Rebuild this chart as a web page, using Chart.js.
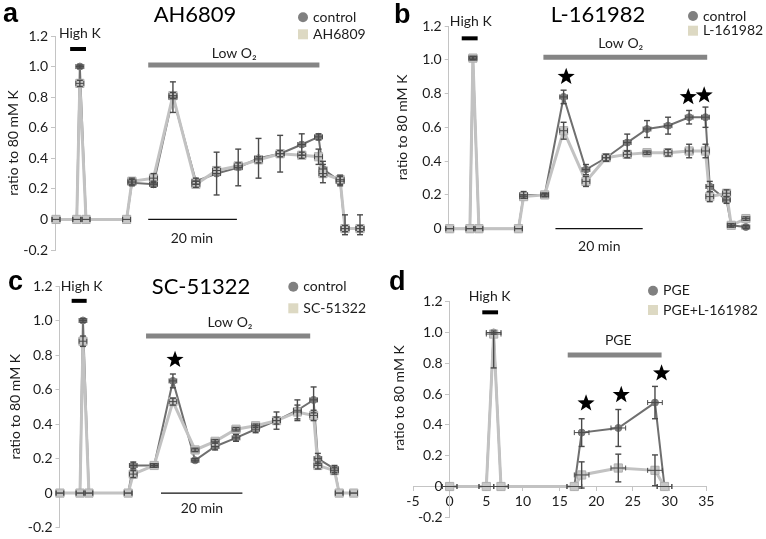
<!DOCTYPE html>
<html>
<head>
<meta charset="utf-8">
<title>Ratio to 80 mM K</title>
<script src="https://cdn.jsdelivr.net/npm/chart.js@4.4.1/dist/chart.umd.min.js"></script>
<style>
html,body{margin:0;padding:0;background:#fff}
#wrap{position:relative;width:766px;height:539px;overflow:hidden;background:#fff}
.panel{position:absolute}
</style>
</head>
<body>
<div id="wrap">
<div class="panel" style="left:0;top:0;width:383px;height:270px"><canvas id="pa"></canvas></div>
<div class="panel" style="left:383px;top:0;width:383px;height:270px"><canvas id="pb"></canvas></div>
<div class="panel" style="left:0;top:270px;width:383px;height:269px"><canvas id="pc"></canvas></div>
<div class="panel" style="left:383px;top:270px;width:383px;height:269px"><canvas id="pd"></canvas></div>
</div>
<script>
// ---------------- data ----------------
// time (min) of each sample in panels a–c
const times = [0, 4.7, 5.4, 6.8, 16.0, 17.2, 22.1, 26.5, 31.7, 36.4, 41.3, 45.9, 50.8, 55.7, 59.5, 60.5, 64.4, 65.5, 68.9];

// panel a
const controlA    = [0, 0, 1.00, 0, 0, 0.24, 0.23, 0.80, 0.25, 0.30, 0.34, 0.40, 0.43, 0.49, 0.54, 0.33, 0.25, -0.06, -0.06];
const ah6809      = [0, 0, 0.89, 0, 0, 0.25, 0.27, 0.81, 0.23, 0.32, 0.35, 0.39, 0.43, 0.42, 0.41, 0.30, 0.26, -0.06, -0.06];
const controlAErr = [0, 0, 0.01, 0, 0, 0.02, 0.02, 0.10, 0.02, 0.14, 0.12, 0.13, 0.12, 0.07, 0.02, 0.05, 0.03, [0.04, 0.09], [0.04, 0.09]];
const ah6809Err   = [0, 0, 0.02, 0, 0, 0.02, 0.03, 0.02, 0.02, 0.02, 0.02, 0.02, 0.02, 0.02, 0.05, 0.06, 0.03, 0.02, 0.02];

// panel b
const controlB    = [0, 0, 1.01, 0, 0, 0.20, 0.20, 0.78, 0.35, 0.42, 0.51, 0.59, 0.61, 0.66, 0.66, 0.25, 0.17, 0.02, 0.01];
const l161982     = [0, 0, 1.01, 0, 0, 0.19, 0.20, 0.58, 0.28, 0.42, 0.44, 0.45, 0.45, 0.46, 0.46, 0.19, 0.21, 0.02, 0.06];
const controlBErr = [0, 0, 0.01, 0, 0, 0.02, 0.01, 0.04, 0.03, 0.02, 0.05, 0.05, 0.05, 0.04, 0.06, 0.03, 0.02, 0.01, 0.01];
const l161982Err  = [0, 0, 0.01, 0, 0, 0.01, 0.01, 0.05, 0.03, 0.02, 0.02, 0.01, 0.02, 0.04, 0.04, 0.03, 0.02, 0.01, 0.01];

// panel c
const controlC    = [0, 0, 1.00, 0, 0, 0.16, 0.16, 0.65, 0.19, 0.27, 0.32, 0.37, 0.42, 0.48, 0.54, 0.20, 0.14, 0, 0];
const sc51322     = [0, 0, 0.88, 0, 0, 0.11, 0.16, 0.53, 0.25, 0.30, 0.37, 0.39, 0.42, 0.47, 0.45, 0.16, 0.13, 0, 0];
const controlCErr = [0, 0, 0.01, 0, 0, 0.02, 0.01, 0.04, 0.01, 0.02, 0.02, 0.02, 0.05, 0.06, 0.075, 0.03, 0.02, 0, 0];
const sc51322Err  = [0, 0, 0.03, 0, 0, 0.02, 0.01, 0.02, 0.01, 0.01, 0.01, 0.01, 0.02, 0.04, 0.03, 0.02, 0.02, 0, 0];

// panel d
const timeD   = [0, 5, 6, 7, 17, 18, 23, 28, 29.3];
const pge     = [0, 0, 1.00, 0, 0, 0.35, 0.38, 0.545, 0];
const pgeL    = [0, 0, 0.99, 0, 0, 0.075, 0.12, 0.105, 0];
const pgeErr  = [0, 0, 0.01, 0, 0, 0.09, 0.12, 0.105, 0];
const pgeLErr = [0, 0, [0.22, 0], 0, 0, 0.085, 0.09, 0.10, 0];

const yTicks = [-0.2, 0, 0.2, 0.4, 0.6, 0.8, 1.0, 1.2];
const xTicksD = [-5, 0, 5, 10, 15, 20, 25, 30, 35];

// ---------------- styles ----------------
const FONT = 'Lato, "Open Sans", sans-serif';
const INK = '#1c1c1c';
const AXIS = '#c4c4c4';
const CTRL_LINE = '#6f6f6f', CTRL_PT = '#7a7a7a';
const DRUG_LINE = '#c2c2c2', DRUG_PT = '#c6c6c6', DRUG_EDGE = '#afafaf';
const LEG_CTRL = '#808080', LEG_DRUG = '#ddd9c3';
const ERR = '#4a4a4a';

const PANELS = {
  pa: {
    series: [{label: 'control', y: controlA, err: controlAErr}, {label: 'AH6809', y: ah6809, err: ah6809Err}],
    x: times, xmin: -0.23, xmax: 72.3, ymin: -0.2, yw: 50,
    pad: {left: 5, right: 8, top: 36, bottom: 20},
    letter: {t: 'a', x: 3, y: 22}, title: {t: 'AH6809', x: 195, y: 15},
    legend: {mx: 303, tx: 313, y: [17.3, 34.3]},
    bars: [{x0: 3.2, x1: 6.8, y: 1.115, c: '#000', w: 4}, {x0: 20.9, x1: 59.7, y: 1.01, c: '#858585', w: 5}, {x0: 20.9, x1: 41.0, y: 0, c: '#111', w: 1.3}],
    texts: [{t: 'High K', x: 5.4, y: 1.218}, {t: 'Low O\u2082', x: 40.4, y: 1.087}, {t: '20 min', x: 30.8, y: -0.122}],
    stars: [], xErr: 0.9
  },
  pb: {
    series: [{label: 'control', y: controlB, err: controlBErr}, {label: 'L-161982', y: l161982, err: l161982Err}],
    x: times, xmin: -0.23, xmax: 72.0, ymin: 0, yw: 55,
    pad: {left: 10.7, right: 6, top: 26, bottom: 41.3},
    letter: {t: 'b', x: 11, y: 23}, title: {t: 'L-161982', x: 215, y: 15},
    legend: {mx: 310, tx: 320, y: [16, 30.7]},
    bars: [{x0: 2.8, x1: 6.5, y: 1.127, c: '#000', w: 4}, {x0: 21.8, x1: 59.9, y: 1.015, c: '#858585', w: 5}, {x0: 24.6, x1: 44.9, y: 0, c: '#111', w: 1.3}],
    texts: [{t: 'High K', x: 4.9, y: 1.225}, {t: 'Low O\u2082', x: 39.8, y: 1.098}, {t: '20 min', x: 34.8, y: -0.107}],
    stars: [{x: 27.1, y: 0.90}, {x: 55.5, y: 0.78}, {x: 59.2, y: 0.79}], xErr: 0.9
  },
  pc: {
    series: [{label: 'control', y: controlC, err: controlCErr}, {label: 'SC-51322', y: sc51322, err: sc51322Err}],
    x: times, xmin: -0.1, xmax: 73.9, ymin: -0.2, yw: 52,
    pad: {left: 7.5, right: 8, top: 16, bottom: 9},
    letter: {t: 'c', x: 8, y: 20}, title: {t: 'SC-51322', x: 201, y: 16.7},
    legend: {mx: 293.3, tx: 303.3, y: [16.7, 38.3]},
    bars: [{x0: 2.75, x1: 6.27, y: 1.114, c: '#000', w: 4}, {x0: 20.2, x1: 58.7, y: 0.91, c: '#858585', w: 5}, {x0: 23.7, x1: 42.8, y: 0, c: '#111', w: 1.3}],
    texts: [{t: 'High K', x: 5.1, y: 1.2}, {t: 'Low O\u2082', x: 39.9, y: 0.987}, {t: '20 min', x: 33.3, y: -0.092}],
    stars: [{x: 27.0, y: 0.773}], xErr: 0.9
  },
  pd: {
    series: [{label: 'PGE', y: pge, err: pgeErr}, {label: 'PGE+L-161982', y: pgeL, err: pgeLErr}],
    x: timeD, xmin: -5, xmax: 35, ymin: -0.2, centered: true,
    pad: {left: 30, right: 59.7, top: 31.7, bottom: 21.7},
    letter: {t: 'd', x: 6, y: 20}, title: null,
    legend: {mx: 270, tx: 280, y: [20.7, 40]},
    bars: [{x0: 4.45, x1: 6.6, y: 1.131, c: '#000', w: 4}, {x0: 16.1, x1: 28.9, y: 0.854, c: '#858585', w: 5}],
    texts: [{t: 'High K', x: 5.45, y: 1.232}, {t: 'PGE', x: 23.0, y: 0.951}],
    stars: [{x: 18.6, y: 0.54}, {x: 23.4, y: 0.595}, {x: 28.9, y: 0.735}], xErr: 1.0,
    yTitle: {x: 16.7, y: 128}
  }
};

function fmtY(v) { return Math.abs(v) < 1e-9 ? '0' : Number(v).toFixed(1); }

function seg(ctx, x0, y0, x1, y1) { ctx.beginPath(); ctx.moveTo(x0, y0); ctx.lineTo(x1, y1); ctx.stroke(); }

function star(ctx, cx, cy, R, r) {
  ctx.beginPath();
  for (let i = 0; i < 10; i++) {
    const a = -Math.PI / 2 + i * Math.PI / 5;
    const rad = i % 2 ? r : R;
    ctx.lineTo(cx + rad * Math.cos(a), cy + rad * Math.sin(a));
  }
  ctx.closePath(); ctx.fill();
}

const decoPlugin = {
  id: 'panelDeco',
  afterDatasetsDraw(chart) {
    const P = PANELS[chart.canvas.id];
    const ctx = chart.ctx, xs = chart.scales.x, ys = chart.scales.y;
    ctx.save();
    ctx.strokeStyle = ERR; ctx.lineWidth = 1.4;
    P.series.forEach((s, k) => {
      chart.data.datasets[k].data.forEach((p, i) => {
        const px = xs.getPixelForValue(p.x), py = ys.getPixelForValue(p.y);
        const xl = xs.getPixelForValue(p.x - P.xErr), xr = xs.getPixelForValue(p.x + P.xErr);
        ctx.lineWidth = 1;
        seg(ctx, xl, py, xr, py); seg(ctx, xl, py - 2.5, xl, py + 2.5); seg(ctx, xr, py - 2.5, xr, py + 2.5);
        ctx.lineWidth = 1.4;
        const e = s.err[i];
        const lo = Array.isArray(e) ? e[0] : e, hi = Array.isArray(e) ? e[1] : e;
        if (lo || hi) {
          const yt = ys.getPixelForValue(p.y + hi), yb = ys.getPixelForValue(p.y - lo);
          seg(ctx, px, yt, px, yb);
          if (hi) seg(ctx, px - 3, yt, px + 3, yt);
          if (lo) seg(ctx, px - 3, yb, px + 3, yb);
        }
      });
    });
    ctx.restore();
  },
  afterDraw(chart) {
    const P = PANELS[chart.canvas.id];
    const ctx = chart.ctx, xs = chart.scales.x, ys = chart.scales.y;
    ctx.save();
    // panel letter
    ctx.fillStyle = '#000';
    ctx.font = 'bold 27px "Liberation Sans", Arial, sans-serif';
    ctx.textAlign = 'left'; ctx.textBaseline = 'alphabetic';
    ctx.fillText(P.letter.t, P.letter.x, P.letter.y);
    // title
    if (P.title) {
      ctx.font = '22px ' + FONT; ctx.textAlign = 'center'; ctx.textBaseline = 'middle';
      ctx.fillStyle = '#000';
      ctx.fillText(P.title.t, P.title.x, P.title.y);
    }
    // legend
    ctx.font = '14px ' + FONT; ctx.textAlign = 'left'; ctx.textBaseline = 'middle';
    const L = P.legend;
    ctx.fillStyle = LEG_CTRL;
    ctx.beginPath(); ctx.arc(L.mx, L.y[0], 5, 0, Math.PI * 2); ctx.fill();
    ctx.fillStyle = LEG_DRUG;
    ctx.fillRect(L.mx - 5, L.y[1] - 5, 10, 10);
    ctx.fillStyle = INK;
    ctx.fillText(P.series[0].label, L.tx, L.y[0]);
    ctx.fillText(P.series[1].label, L.tx, L.y[1]);
    // bars
    ctx.lineCap = 'butt';
    P.bars.forEach(b => {
      ctx.strokeStyle = b.c; ctx.lineWidth = b.w;
      seg(ctx, xs.getPixelForValue(b.x0), ys.getPixelForValue(b.y), xs.getPixelForValue(b.x1), ys.getPixelForValue(b.y));
    });
    // texts
    ctx.fillStyle = INK; ctx.textAlign = 'center'; ctx.textBaseline = 'middle';
    ctx.font = '14px ' + FONT;
    P.texts.forEach(t => ctx.fillText(t.t, xs.getPixelForValue(t.x), ys.getPixelForValue(t.y)));
    // stars
    ctx.fillStyle = '#000';
    P.stars.forEach(s => star(ctx, xs.getPixelForValue(s.x), ys.getPixelForValue(s.y), 9, 3.7));
    // custom y title (panel d, axis crosses at x = 0)
    if (P.yTitle) {
      ctx.translate(P.yTitle.x, P.yTitle.y); ctx.rotate(-Math.PI / 2);
      ctx.font = '14px ' + FONT; ctx.fillStyle = INK;
      ctx.fillText('ratio to 80 mM K', 0, 0);
    }
    ctx.restore();
  }
};

function makeChart(id) {
  const P = PANELS[id];
  const datasets = P.series.map((s, k) => {
    const ctrl = k === 0;
    return {
      label: s.label,
      data: P.x.map((x, i) => ({x, y: s.y[i]})),
      showLine: true, tension: 0, clip: false,
      borderColor: ctrl ? CTRL_LINE : DRUG_LINE,
      borderWidth: ctrl ? 2 : 3,
      pointStyle: ctrl ? 'circle' : 'rect',
      pointRadius: ctrl ? 3.5 : 5.8,
      pointBackgroundColor: ctrl ? CTRL_PT : DRUG_PT,
      pointBorderColor: ctrl ? CTRL_PT : DRUG_EDGE,
      pointBorderWidth: 1,
      order: ctrl ? 1 : 0
    };
  });
  const tickFont = {family: FONT, size: 14};
  let scales;
  if (!P.centered) {
    scales = {
      x: {type: 'linear', display: false, min: P.xmin, max: P.xmax},
      y: {
        type: 'linear', position: 'left', min: P.ymin, max: 1.2,
        afterFit: s => { s.width = P.yw; },
        afterBuildTicks: s => { s.ticks = yTicks.filter(v => v >= P.ymin - 1e-9).map(v => ({value: v})); },
        ticks: {callback: v => fmtY(v), color: INK, font: tickFont, padding: 3},
        grid: {drawOnChartArea: false, drawTicks: true, tickLength: 4, color: AXIS},
        border: {color: AXIS, width: 1},
        title: {display: true, text: 'ratio to 80 mM K', color: INK, font: {family: FONT, size: 14}, padding: 0}
      }
    };
  } else {
    scales = {
      x: {
        type: 'linear', position: {y: 0}, min: P.xmin, max: P.xmax,
        afterBuildTicks: s => { s.ticks = xTicksD.map(v => ({value: v})); },
        ticks: {color: INK, font: tickFont, padding: 3},
        grid: {drawOnChartArea: false, drawTicks: true, tickLength: 4, color: AXIS},
        border: {color: AXIS, width: 1}
      },
      y: {
        type: 'linear', position: {x: 0}, min: P.ymin, max: 1.2,
        afterBuildTicks: s => { s.ticks = yTicks.map(v => ({value: v})); },
        ticks: {callback: v => fmtY(v) + '\u2002', color: INK, font: tickFont},
        grid: {drawOnChartArea: false, drawTicks: true, tickLength: 4, color: AXIS},
        border: {color: AXIS, width: 1}
      }
    };
  }
  return new Chart(document.getElementById(id), {
    type: 'line',
    data: {datasets},
    options: {
      responsive: true, maintainAspectRatio: false, animation: false,
      layout: {padding: P.pad},
      plugins: {legend: {display: false}, title: {display: false}, tooltip: {enabled: false}},
      scales
    },
    plugins: [decoPlugin]
  });
}

['pa', 'pb', 'pc', 'pd'].forEach(makeChart);
</script>
</body>
</html>
